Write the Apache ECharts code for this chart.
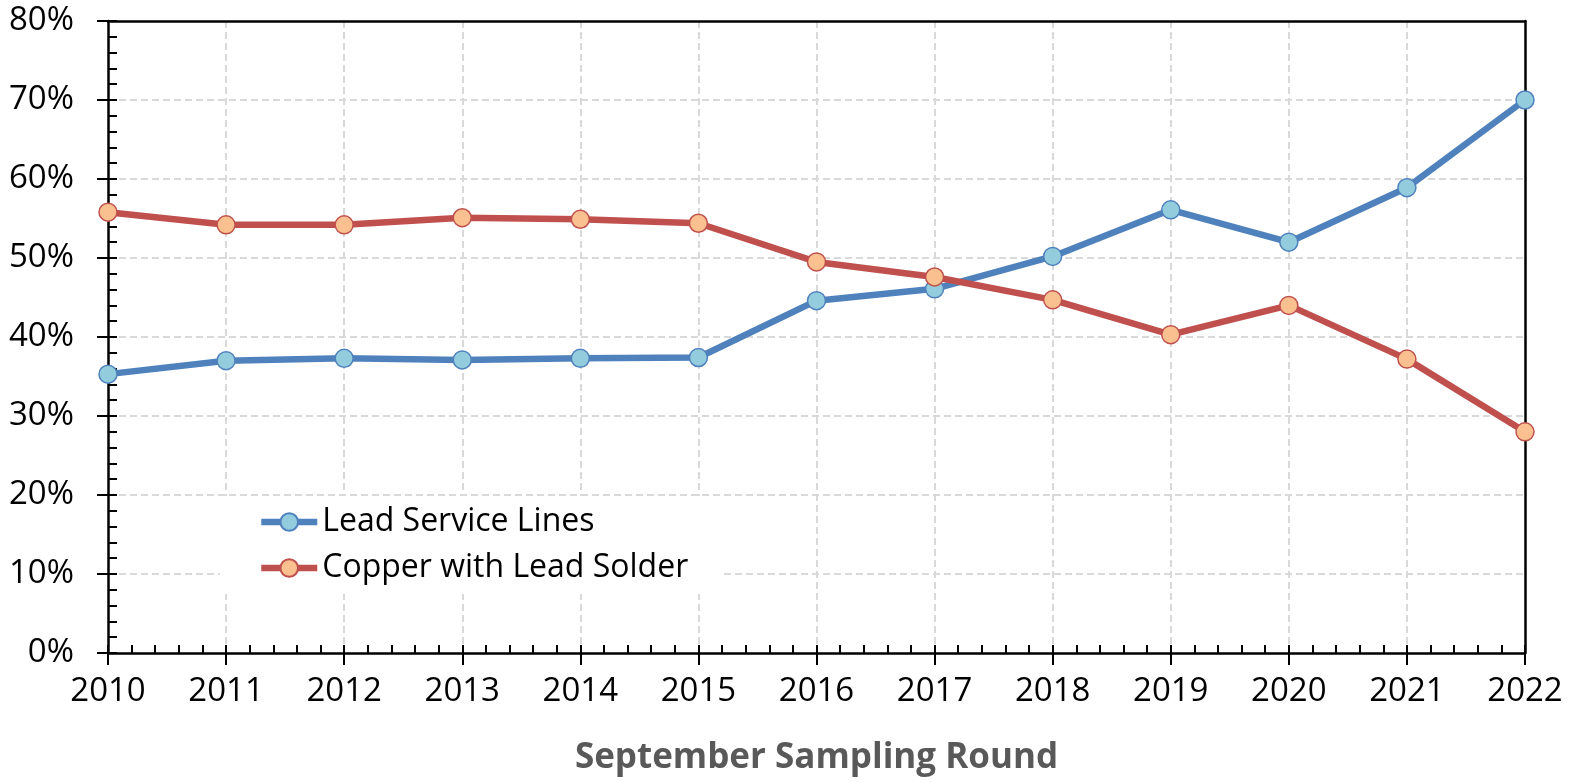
<!DOCTYPE html>
<html>
<head>
<meta charset="utf-8">
<script src="https://cdn.jsdelivr.net/npm/echarts@6/dist/echarts.min.js"></script>
<style>
html,body{margin:0;padding:0;background:#fff;}
#chart{width:1577px;height:782px;}
</style>
</head>
<body>
<div id="chart"></div>
<script>
const years = [2010, 2011, 2012, 2013, 2014, 2015, 2016, 2017, 2018, 2019, 2020, 2021, 2022];
const leadServiceLines = [35.3, 37.0, 37.3, 37.1, 37.3, 37.4, 44.6, 46.1, 50.2, 56.1, 52.0, 58.9, 70.0];
const copperLeadSolder = [55.8, 54.2, 54.2, 55.1, 54.9, 54.4, 49.5, 47.6, 44.7, 40.3, 44.0, 37.2, 28.0];
const seriesNames = ['Lead Service Lines', 'Copper with Lead Solder'];
const xTitle = 'September Sampling Round';

const FONT = 'Open Sans';
const chart = echarts.init(document.getElementById('chart'), null, {renderer: 'canvas'});

function pairs(vals) { return years.map((y, i) => [y, vals[i]]); }

const gridStyle = {show: true, showMinLine: false, showMaxLine: false, lineStyle: {color: '#d9d9d9', width: 2, type: [7, 4]}};
const xMin = years[0], xMax = years[years.length - 1];

const option = {
  backgroundColor: '#ffffff',
  animation: false,
  grid: {left: 108, right: 52, top: 21, bottom: 129, show: false},
  legend: {
    orient: 'vertical',
    left: 220, top: 496,
    padding: [10, 34, 10, 38],
    backgroundColor: '#ffffff',
    itemWidth: 56, itemHeight: 22, itemGap: 14,
    lineStyle: {width: 6.5},
    textStyle: {fontFamily: FONT, fontSize: 32, color: '#000', lineHeight: 32},
    data: seriesNames
  },
  xAxis: [
    {
      type: 'value', min: xMin, max: xMax, interval: 1,
      position: 'bottom',
      axisLine: {show: true, onZero: false, lineStyle: {color: '#000', width: 2.5}},
      axisTick: {show: true, inside: false, length: 12, lineStyle: {color: '#000', width: 2}},
      minorTick: {show: false},
      splitLine: gridStyle,
      axisLabel: {fontFamily: FONT, fontSize: 33, color: '#000', margin: 22, formatter: v => String(v)},
      name: xTitle, nameLocation: 'middle', nameGap: 88,
      nameTextStyle: {fontFamily: FONT, fontSize: 35, fontWeight: 'bold', color: '#595959'}
    },
    {
      type: 'value', min: xMin, max: xMax, interval: 1,
      position: 'bottom', gridIndex: 0,
      axisLine: {show: false, onZero: false},
      axisTick: {show: true, inside: true, length: 8, lineStyle: {color: '#000', width: 2}},
      minorTick: {show: true, splitNumber: 5, length: 8, lineStyle: {color: '#000', width: 2}},
      splitLine: {show: false},
      axisLabel: {show: false}
    },
    {
      type: 'value', min: xMin, max: xMax, interval: 1,
      position: 'top', gridIndex: 0,
      axisLine: {show: true, onZero: false, lineStyle: {color: '#000', width: 2.5}},
      axisTick: {show: false}, minorTick: {show: false},
      splitLine: {show: false}, axisLabel: {show: false}
    }
  ],
  yAxis: [
    {
      type: 'value', min: 0, max: 80, interval: 10,
      position: 'left',
      axisLine: {show: true, onZero: false, lineStyle: {color: '#000', width: 2.5}},
      axisTick: {show: true, inside: false, length: 11, lineStyle: {color: '#000', width: 2}},
      minorTick: {show: false},
      splitLine: gridStyle,
      axisLabel: {fontFamily: FONT, fontSize: 33, color: '#000', margin: 34, formatter: v => v + '%'}
    },
    {
      type: 'value', min: 0, max: 80, interval: 10,
      position: 'left', gridIndex: 0,
      axisLine: {show: false, onZero: false},
      axisTick: {show: true, inside: true, length: 9, lineStyle: {color: '#000', width: 2}},
      minorTick: {show: true, splitNumber: 5, length: 9, lineStyle: {color: '#000', width: 2}},
      splitLine: {show: false},
      axisLabel: {show: false}
    },
    {
      type: 'value', min: 0, max: 80, interval: 10,
      position: 'right', gridIndex: 0,
      axisLine: {show: true, onZero: false, lineStyle: {color: '#000', width: 2.5}},
      axisTick: {show: false}, minorTick: {show: false},
      splitLine: {show: false}, axisLabel: {show: false}
    }
  ],
  series: [
    {
      name: seriesNames[0], type: 'line', xAxisIndex: 0, yAxisIndex: 0,
      data: pairs(leadServiceLines),
      symbol: 'circle', symbolSize: 18, showAllSymbol: true,
      lineStyle: {color: '#4F81BD', width: 6.5},
      itemStyle: {color: '#93CDDD', borderColor: '#4F81BD', borderWidth: 1.5},
      z: 3
    },
    {
      name: seriesNames[1], type: 'line', xAxisIndex: 0, yAxisIndex: 0,
      data: pairs(copperLeadSolder),
      symbol: 'circle', symbolSize: 18, showAllSymbol: true,
      lineStyle: {color: '#C0504D', width: 6.5},
      itemStyle: {color: '#FAC090', borderColor: '#C0504D', borderWidth: 1.5},
      z: 4
    }
  ]
};
chart.setOption(option);
</script>
</body>
</html>
